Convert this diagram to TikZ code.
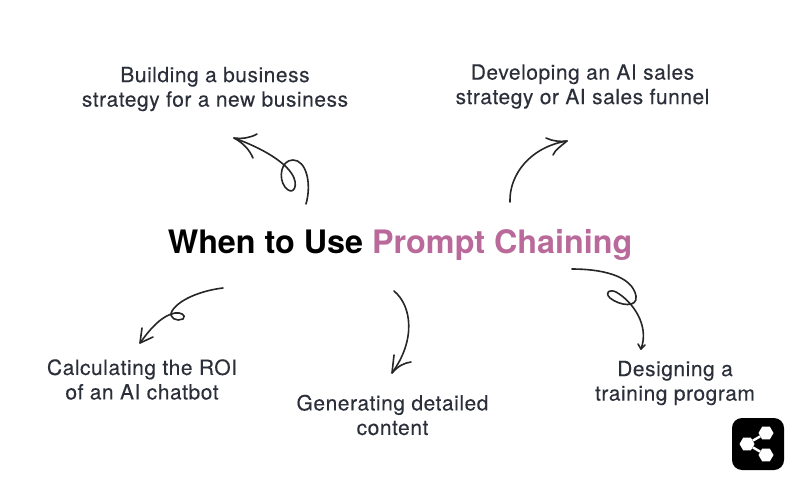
\documentclass[tikz,border=0pt]{standalone}
\usepackage{fontspec}
\setmainfont{TeX Gyre Heros}
\newfontfamily\labelfont[LetterSpace=2.5,FakeBold=0.15]{TeX Gyre Heros}
\usepackage{tikz}
\usetikzlibrary{positioning,shapes.geometric}
\definecolor{inkdark}{HTML}{2B2F3A}
\definecolor{chainpink}{HTML}{B96A9A}
\tikzset{
  label/.style={align=center, text=inkdark, font=\labelfont\fontsize{21}{24.5}\selectfont, inner sep=0pt},
  titletext/.style={font=\fontsize{32.3}{38}\selectfont\bfseries, inner sep=0pt},
  scribble/.style={draw=black!85, line width=1.6pt, line cap=round, line join=round},
  hexnode/.style={regular polygon, regular polygon sides=6, fill=white, minimum size=15pt, inner sep=0pt},
  sharelink/.style={draw=white, line width=2.4pt},
}

\begin{document}
\begin{tikzpicture}[x=1pt, y=-1pt]
  \useasboundingbox (0,0) rectangle (800,484);

  \node[titletext] (title) at (400,245) {When to Use \textcolor{chainpink}{Prompt Chaining}};

  \node[label] (strategy) at (215,89) {Building a business\\strategy for a new business};
  \node[label] (funnel) at (582.5,86.5) {Developing an AI sales\\strategy or AI sales funnel};
  \node[label] (roi) at (142,379.5) {Calculating the ROI\\of an AI chatbot};
  \node[label] (content) at (392.5,415) {Generating detailed\\content};
  \node[label] (training) at (675,383) {Designing a\\training program};

  \coordinate (s1) at (306,204);
  \coordinate (t1) at (234,138);
  \coordinate (s2) at (510,202);
  \coordinate (t2) at (567,141);
  \coordinate (s3) at (223,288);
  \coordinate (t3) at (140,343);
  \coordinate (s4) at (394,291);
  \coordinate (t4) at (392,373);
  \coordinate (s5) at (572,269);
  \coordinate (t5) at (641,349);

  % top left
  \draw[scribble] (s1) .. controls (312,183) and (306,160) .. (293,160)
    .. controls (281,160) and (278,178) .. (285,187)
    .. controls (292,196) and (298,188) .. (294,178)
    .. controls (288,163) and (262,148) .. (t1);
  \draw[scribble] (257,134) .. controls (250,138) and (242,139) .. (t1)
    .. controls (243,143) and (249,149) .. (253,158);

  % top right
  \draw[scribble] (s2) .. controls (509,175) and (530,147) .. (t2);
  \draw[scribble] (546,138) .. controls (552,141) and (560,142) .. (t2)
    .. controls (561,146) and (555,150) .. (553,155);

  % bottom left
  \draw[scribble] (s3) .. controls (205,290) and (180,298) .. (172,311)
    .. controls (168,318) and (177,322) .. (183,319)
    .. controls (187,315) and (180,312) .. (175,313)
    .. controls (160,316) and (148,332) .. (t3);
  \draw[scribble] (142,328) -- (t3) -- (153,337);

  % bottom middle
  \draw[scribble] (s4) .. controls (412,306) and (416,340) .. (t4);
  \draw[scribble] (394,355) -- (t4) .. controls (398,366) and (404,363) .. (411,362);

  % bottom right
  \draw[scribble] (s5) .. controls (600,269) and (632,275) .. (636,296)
    .. controls (638,308) and (620,306) .. (610,298)
    .. controls (604,292) and (610,289) .. (616,292)
    .. controls (632,301) and (650,325) .. (t5);
  \draw[scribble] (638,344) -- (t5) -- (645,345);

  % share badge
  \node[fill=black, rounded corners=10pt, minimum size=52pt, inner sep=0pt] (badge) at (758,444) {};
  \node[hexnode] (hexa) at (766,433) {};
  \node[hexnode] (hexb) at (747,444) {};
  \node[hexnode] (hexc) at (766,455) {};
  \draw[sharelink] (hexb) -- (hexa);
  \draw[sharelink] (hexb) -- (hexc);
\end{tikzpicture}
\end{document}
